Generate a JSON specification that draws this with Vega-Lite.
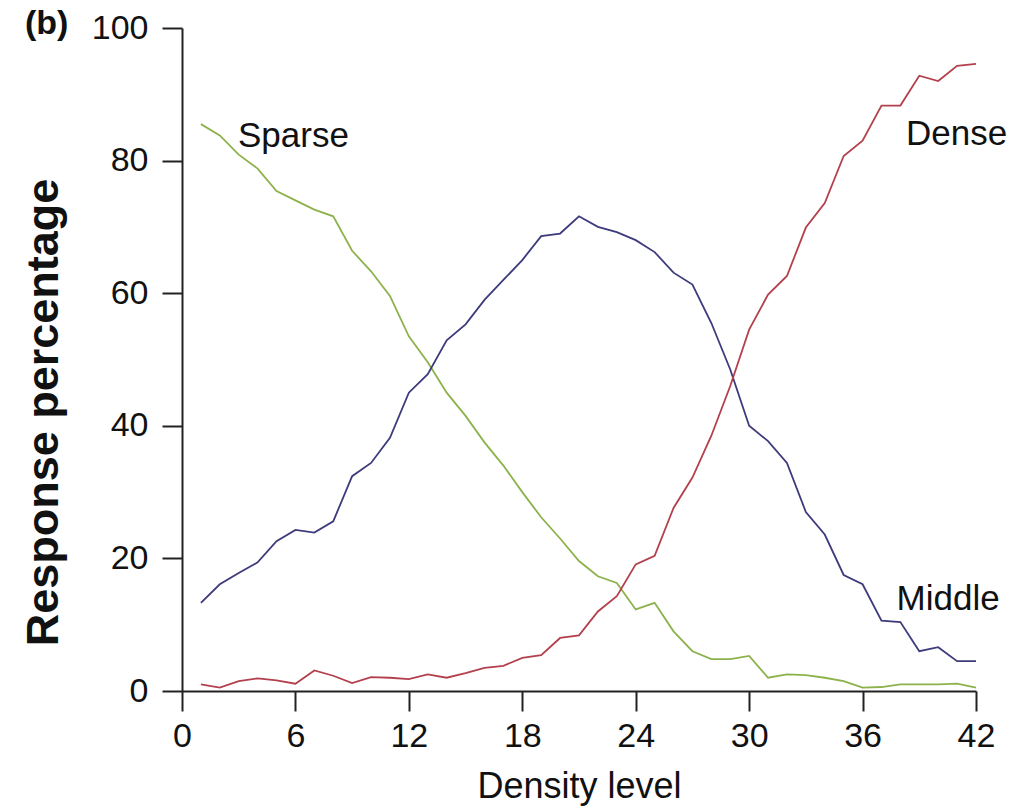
{
  "$schema": "https://vega.github.io/schema/vega-lite/v6.json",
  "autosize": "none",
  "width": 794,
  "height": 663,
  "padding": {"left": 182, "top": 28, "right": 38, "bottom": 119},
  "background": "white",
  "config": {
    "view": {"stroke": null},
    "font": "Liberation Sans",
    "axis": {"grid": false, "domainColor": "#222", "tickColor": "#222", "domainWidth": 2, "tickWidth": 2, "labelColor": "#111", "titleColor": "#111", "labelFont": "Liberation Sans", "titleFont": "Liberation Sans"}
  },
  "title": {"text": "(b)", "anchor": "start", "frame": "group", "orient": "top", "offset": 0, "dx": -157, "dy": 57, "baseline": "alphabetic", "fontSize": 34, "fontWeight": "bold", "font": "Liberation Sans", "color": "#111"},
  "datasets": {
    "curves": [
      {"d": 1, "Sparse": 85.5, "Middle": 13.3, "Dense": 1.0},
      {"d": 2, "Sparse": 83.8, "Middle": 16.1, "Dense": 0.5},
      {"d": 3, "Sparse": 80.9, "Middle": 17.8, "Dense": 1.5},
      {"d": 4, "Sparse": 78.8, "Middle": 19.4, "Dense": 1.9},
      {"d": 5, "Sparse": 75.4, "Middle": 22.6, "Dense": 1.6},
      {"d": 6, "Sparse": 74.0, "Middle": 24.3, "Dense": 1.1},
      {"d": 7, "Sparse": 72.6, "Middle": 23.9, "Dense": 3.1},
      {"d": 8, "Sparse": 71.6, "Middle": 25.6, "Dense": 2.3},
      {"d": 9, "Sparse": 66.4, "Middle": 32.4, "Dense": 1.2},
      {"d": 10, "Sparse": 63.3, "Middle": 34.4, "Dense": 2.1},
      {"d": 11, "Sparse": 59.6, "Middle": 38.2, "Dense": 2.0},
      {"d": 12, "Sparse": 53.5, "Middle": 45.0, "Dense": 1.8},
      {"d": 13, "Sparse": 49.6, "Middle": 47.8, "Dense": 2.5},
      {"d": 14, "Sparse": 45.0, "Middle": 52.9, "Dense": 2.0},
      {"d": 15, "Sparse": 41.5, "Middle": 55.3, "Dense": 2.7},
      {"d": 16, "Sparse": 37.5, "Middle": 59.0, "Dense": 3.5},
      {"d": 17, "Sparse": 34.0, "Middle": 62.0, "Dense": 3.8},
      {"d": 18, "Sparse": 30.0, "Middle": 65.0, "Dense": 5.0},
      {"d": 19, "Sparse": 26.2, "Middle": 68.6, "Dense": 5.4},
      {"d": 20, "Sparse": 23.0, "Middle": 69.0, "Dense": 8.0},
      {"d": 21, "Sparse": 19.6, "Middle": 71.6, "Dense": 8.4},
      {"d": 22, "Sparse": 17.3, "Middle": 70.0, "Dense": 12.0},
      {"d": 23, "Sparse": 16.3, "Middle": 69.2, "Dense": 14.3},
      {"d": 24, "Sparse": 12.3, "Middle": 68.0, "Dense": 19.1},
      {"d": 25, "Sparse": 13.3, "Middle": 66.2, "Dense": 20.4},
      {"d": 26, "Sparse": 9.0, "Middle": 63.1, "Dense": 27.6},
      {"d": 27, "Sparse": 6.0, "Middle": 61.3, "Dense": 32.2},
      {"d": 28, "Sparse": 4.8, "Middle": 55.5, "Dense": 38.5},
      {"d": 29, "Sparse": 4.8, "Middle": 48.5, "Dense": 46.0},
      {"d": 30, "Sparse": 5.3, "Middle": 40.0, "Dense": 54.5},
      {"d": 31, "Sparse": 2.0, "Middle": 37.7, "Dense": 59.8},
      {"d": 32, "Sparse": 2.5, "Middle": 34.4, "Dense": 62.6},
      {"d": 33, "Sparse": 2.4, "Middle": 27.0, "Dense": 69.9},
      {"d": 34, "Sparse": 2.0, "Middle": 23.6, "Dense": 73.6},
      {"d": 35, "Sparse": 1.5, "Middle": 17.5, "Dense": 80.7},
      {"d": 36, "Sparse": 0.5, "Middle": 16.1, "Dense": 83.0},
      {"d": 37, "Sparse": 0.6, "Middle": 10.6, "Dense": 88.3},
      {"d": 38, "Sparse": 1.0, "Middle": 10.4, "Dense": 88.3},
      {"d": 39, "Sparse": 1.0, "Middle": 6.0, "Dense": 92.8},
      {"d": 40, "Sparse": 1.0, "Middle": 6.6, "Dense": 92.0},
      {"d": 41, "Sparse": 1.1, "Middle": 4.5, "Dense": 94.3},
      {"d": 42, "Sparse": 0.5, "Middle": 4.5, "Dense": 94.6}
    ],
    "labels": [
      {"d": 2.96, "pct": 83.7, "name": "Sparse"},
      {"d": 38.3, "pct": 84.0, "name": "Dense"},
      {"d": 37.8, "pct": 13.9, "name": "Middle"}
    ]
  },
  "layer": [
    {
      "data": {"name": "curves"},
      "transform": [{"fold": ["Sparse", "Middle", "Dense"], "as": ["series", "pct"]}],
      "mark": {"type": "line", "strokeWidth": 1.8},
      "encoding": {
        "x": {"field": "d", "type": "quantitative", "scale": {"domain": [0, 42], "nice": false, "zero": false},
          "axis": {"values": [0, 6, 12, 18, 24, 30, 36, 42], "title": "Density level", "tickSize": 20, "labelPadding": 8, "labelFontSize": 34, "labelFlush": false, "titleFontSize": 36, "titleFontWeight": "normal", "titleY": 106, "titleBaseline": "alphabetic"}},
        "y": {"field": "pct", "type": "quantitative", "scale": {"domain": [0, 100], "nice": false},
          "axis": {"values": [0, 20, 40, 60, 80, 100], "title": "Response percentage", "tickSize": 20, "labelPadding": 14, "labelFontSize": 34, "labelFlush": false, "titleFontSize": 45, "titleFontWeight": "bold", "titleX": -125, "titleY": 384, "titleAngle": -90, "titleAlign": "center", "titleBaseline": "alphabetic"}},
        "color": {"field": "series", "type": "nominal", "scale": {"domain": ["Sparse", "Middle", "Dense"], "range": ["#8db24c", "#3d3b7c", "#b3404c"]}, "legend": null}
      }
    },
    {
      "data": {"name": "labels"},
      "mark": {"type": "text", "align": "left", "baseline": "middle", "fontSize": 35, "font": "Liberation Sans", "color": "#111"},
      "encoding": {
        "x": {"field": "d", "type": "quantitative"},
        "y": {"field": "pct", "type": "quantitative"},
        "text": {"field": "name"}
      }
    }
  ]
}
